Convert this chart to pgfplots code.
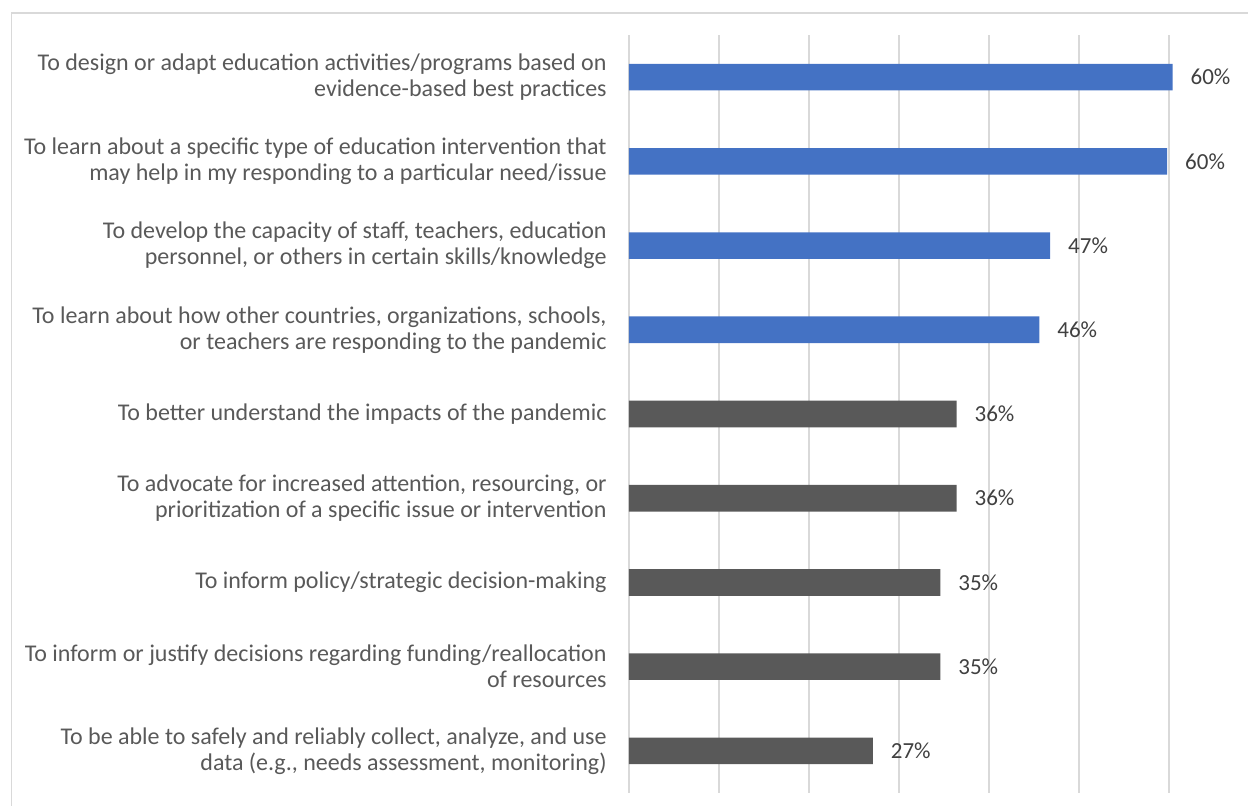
\documentclass[border=0pt]{standalone}
\usepackage{fontspec}
\setmainfont{Carlito}
\usepackage{pgfplots}
\pgfplotsset{compat=1.18}
\definecolor{barblue}{HTML}{4472C4}
\definecolor{bargray}{HTML}{595959}
\definecolor{gridgray}{HTML}{D9D9D9}
\definecolor{txtgray}{HTML}{595959}
\definecolor{lblgray}{HTML}{404040}
\begin{document}
\begin{tikzpicture}
\path[use as bounding box] (0,0) rectangle (624pt,403pt);
\draw[gridgray, line width=0.6pt] (5.85pt,0) -- (5.85pt,396.5pt) -- (624pt,396.5pt);
\begin{axis}[
  at={(314.5pt,6.5pt)}, anchor=south west,
  scale only axis, width=270pt, height=379pt,
  xmin=0, xmax=0.6, ymin=-0.5, ymax=8.5,
  y dir=reverse, clip=false,
  xtick={0,0.1,...,0.6}, xticklabels={},
  xmajorgrids, grid style={gridgray, line width=0.6pt},
  axis line style={draw=none},
  major tick length=0pt,
  ytick={0,...,8},
  yticklabels={
    {To design or adapt education activities/programs based on\\evidence-based best practices},
    {To learn about a specific type of education intervention that\\may help in my responding to a particular need/issue},
    {To develop the capacity of staff, teachers, education\\personnel, or others in certain skills/knowledge},
    {To learn about how other countries, organizations, schools,\\or teachers are responding to the pandemic},
    {To better understand the impacts of the pandemic},
    {To advocate for increased attention, resourcing, or\\prioritization of a specific issue or intervention},
    {To inform policy/strategic decision-making},
    {To inform or justify decisions regarding funding/reallocation\\of resources},
    {To be able to safely and reliably collect, analyze, and use\\data (e.g., needs assessment, monitoring)}
  },
  yticklabel style={align=right, font=\fontsize{12}{13}\selectfont, text=txtgray, inner sep=0pt, xshift=-11pt},
  xbar, bar width=13.3pt,
  nodes near coords, point meta=explicit symbolic,
  nodes near coords style={anchor=west, inner sep=0pt, xshift=8.8pt, font=\fontsize{11.5}{13}\selectfont, text=lblgray},
]
\addplot[xbar, bar shift=0pt, fill=barblue, draw=none] coordinates {
  (0.604,0) [60\%]
  (0.598,1) [60\%]
  (0.468,2) [47\%]
  (0.456,3) [46\%]
};
\addplot[xbar, bar shift=0pt, fill=bargray, draw=none] coordinates {
  (0.364,4) [36\%]
  (0.364,5) [36\%]
  (0.346,6) [35\%]
  (0.346,7) [35\%]
  (0.271,8) [27\%]
};
\end{axis}
\end{tikzpicture}
\end{document}
